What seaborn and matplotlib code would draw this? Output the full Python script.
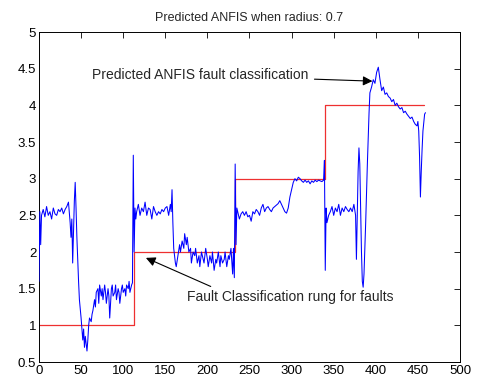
import matplotlib
matplotlib.use("Agg")
import matplotlib.pyplot as plt
import seaborn as sns
import pandas as pd

# Red reference steps (fault class)
step_x = [0, 113, 113, 233, 233, 340, 340, 457]
step_y = [1, 1, 2, 2, 3, 3, 4, 4]

# Blue predicted ANFIS output
pred_x = [0, 1, 2, 3, 5, 7, 9, 11, 13, 15, 17, 19, 21, 23, 25, 27, 29, 31, 33, 35,
          37, 38, 39, 40, 41, 42, 43, 44, 45, 46, 47, 48, 50, 52, 53, 54, 55, 56, 57, 58,
          59, 60, 62, 63, 64, 66, 67, 68, 70, 71, 72, 74, 75, 76, 78, 79, 80, 82, 83, 84,
          86, 87, 88, 90, 91, 92, 94, 95, 96, 98, 99, 100, 102, 103, 104, 106, 107, 108, 110, 111,
          112, 113, 114, 115,
          116, 118, 120, 122, 124, 126, 128, 130, 132, 134, 136, 138, 140, 142, 144, 146, 148, 150,
          152, 154, 156, 157, 158,
          159, 160, 162, 163, 165, 167, 168, 170, 172, 173, 175, 176, 178, 180, 181, 183, 185, 186,
          188, 190, 191, 193, 195, 196, 198, 200, 201, 203, 205, 206, 208, 210, 211, 213, 215, 216,
          218, 220, 221, 223, 225, 226, 228, 230, 231, 232, 233, 234, 235,
          236, 238, 240, 242, 244, 246, 248, 250, 252, 254, 256, 258, 260, 262, 264, 266, 268, 270,
          272, 274, 276, 278, 280, 282, 284, 286, 288, 290, 292, 294, 296, 298, 300, 302, 304, 306,
          308, 310, 312, 314, 316, 318, 320, 322, 324, 326, 328, 330, 332, 334, 336, 338, 339, 340,
          341, 342,
          344, 346, 348, 350, 352, 354, 356, 358, 360, 362, 364, 366, 368, 370, 372, 374, 376, 377,
          378, 379, 380, 381, 382, 383, 384, 385, 386, 388, 390, 392, 393, 395, 397, 399, 401, 403,
          405, 407, 409, 411, 413, 415, 417, 419, 421, 423, 425, 427, 429, 431, 433, 435, 437, 439,
          441, 443, 445, 447, 449, 450, 451, 452, 453, 454, 455, 456, 458, 459]
pred_y = [1.6, 2.55, 2.1, 2.5, 2.58, 2.48, 2.62, 2.5, 2.55, 2.45, 2.6, 2.52, 2.5, 2.58, 2.55, 2.6, 2.52, 2.58, 2.62, 2.68,
          2.4, 2.2, 2.45, 1.85, 2.3, 2.7, 2.95, 2.6, 2.2, 1.9, 1.6, 1.35, 1.1, 0.8, 0.95, 0.7, 0.85, 0.75, 0.65, 0.8,
          1.0, 1.1, 1.05, 1.15, 1.2, 1.35, 1.25, 1.45, 1.5, 1.3, 1.55, 1.4, 1.5, 1.35, 1.55, 1.45, 1.3, 1.5, 1.4, 1.1,
          1.5, 1.55, 1.4, 1.45, 1.55, 1.35, 1.5, 1.45, 1.3, 1.5, 1.55, 1.45, 1.5, 1.4, 1.55, 1.5, 1.6, 1.45, 1.55, 1.58,
          3.32, 2.0, 2.6, 2.45,
          2.55, 2.65, 2.5, 2.6, 2.55, 2.68, 2.5, 2.6, 2.58, 2.45, 2.62, 2.55, 2.5, 2.55, 2.52, 2.58, 2.55, 2.6,
          2.62, 2.5, 2.65, 2.55, 2.85,
          2.4, 2.05, 1.85, 1.8, 1.95, 2.1, 2.0, 2.15, 2.05, 2.25, 2.1, 2.2, 2.0, 2.05, 1.85, 2.0, 1.95, 2.05,
          1.85, 1.95, 1.8, 2.0, 1.9, 1.85, 2.05, 1.9, 1.8, 1.95, 1.85, 2.0, 1.75, 1.9, 1.85, 2.0, 1.8, 1.95,
          1.85, 1.9, 2.0, 1.8, 1.95, 1.9, 2.05, 1.7, 2.05, 1.65, 3.2, 2.1, 2.6,
          2.55, 2.45, 2.52, 2.55, 2.5, 2.55, 2.48, 2.5, 2.42, 2.55, 2.52, 2.58, 2.55, 2.5, 2.6, 2.65, 2.55, 2.6,
          2.62, 2.58, 2.55, 2.6, 2.62, 2.64, 2.66, 2.7, 2.65, 2.6, 2.55, 2.53, 2.6, 2.75, 2.85, 2.95, 3.0, 2.97,
          3.02, 3.0, 2.97, 2.95, 2.98, 2.95, 2.97, 2.93, 2.97, 2.95, 2.98, 2.96, 2.98, 2.97, 2.96, 2.98, 3.25, 1.75,
          2.6, 2.4,
          2.5, 2.55, 2.62, 2.5, 2.6, 2.55, 2.65, 2.5, 2.6, 2.55, 2.62, 2.58, 2.55, 2.6, 2.55, 2.65, 2.5, 1.9,
          2.5, 3.1, 3.42, 3.2, 2.6, 2.0, 1.6, 1.52, 1.7, 2.4, 3.2, 3.9, 4.17, 4.25, 4.35, 4.3, 4.45, 4.52,
          4.35, 4.2, 4.25, 4.15, 4.17, 4.12, 4.1, 4.05, 4.08, 4.0, 4.03, 3.98, 3.95, 3.97, 3.9, 3.92, 3.88, 3.85,
          3.82, 3.84, 3.78, 3.74, 3.72, 3.78, 3.65, 3.3, 2.75, 3.1, 3.4, 3.65, 3.88, 3.9]

x_ticks = [0, 50, 100, 150, 200, 250, 300, 350, 400, 450, 500]
y_ticks = [0.5, 1, 1.5, 2, 2.5, 3, 3.5, 4, 4.5, 5]
y_tick_labels = ["0.5", "1", "1.5", "2", "2.5", "3", "3.5", "4", "4.5", "5"]

sns.set_style("white")
plt.rcParams['font.family'] = ['Liberation Sans', 'DejaVu Sans']

fig = plt.figure(figsize=(4.79, 3.78), dpi=100)
ax = fig.add_axes([0.0814, 0.0423, 0.8789, 0.873])

step_df = pd.DataFrame({"x": step_x, "y": step_y})
pred_df = pd.DataFrame({"x": pred_x, "y": pred_y})

sns.lineplot(data=step_df, x="x", y="y", ax=ax, color="#ee3030", lw=0.9,
             estimator=None, sort=False, zorder=2)
sns.lineplot(data=pred_df, x="x", y="y", ax=ax, color="#0000ff", lw=0.75,
             estimator=None, sort=False, zorder=3)

ax.set_xlim(0, 500)
ax.set_ylim(0.5, 5)
ax.set_xticks(x_ticks)
ax.set_xticklabels([str(t) for t in x_ticks])
ax.set_yticks(y_ticks)
ax.set_yticklabels(y_tick_labels)
ax.set_xlabel("")
ax.set_ylabel("")
ax.tick_params(direction="in", length=4, width=0.6, top=True, right=True,
               labelsize=9.5, colors="black", pad=2)
for s in ax.spines.values():
    s.set_color("black")
    s.set_linewidth(0.7)

ax.set_title("Predicted ANFIS when radius: 0.7", fontsize=9, pad=8)

ax.annotate("Predicted ANFIS fault classification", xy=(396, 4.33), xytext=(63, 4.41),
            fontsize=10, va="center", ha="left",
            arrowprops=dict(arrowstyle="-|>", color="black", lw=0.8,
                            mutation_scale=14, shrinkA=2, shrinkB=0))
ax.annotate("Fault Classification rung for faults", xy=(127, 1.92), xytext=(176, 1.39),
            fontsize=10, va="center", ha="left",
            arrowprops=dict(arrowstyle="-|>", color="black", lw=0.8,
                            mutation_scale=14, shrinkA=0, shrinkB=0,
                            relpos=(0.15, 1.0)))

fig.savefig("out.png", dpi=100)
